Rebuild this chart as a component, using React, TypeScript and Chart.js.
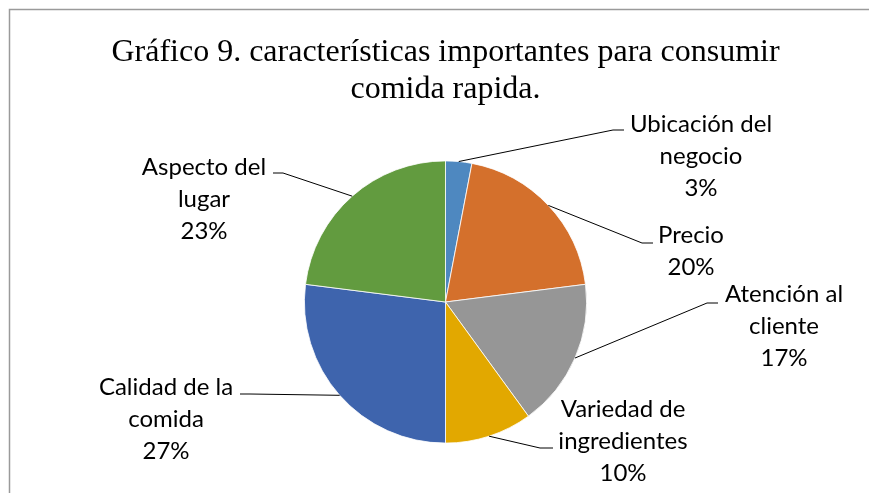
import React, { useEffect, useRef } from "react";
import { Chart, registerables } from "chart.js";

Chart.register(...registerables);

const titleLines = ["Gráfico 9. características importantes para consumir", "comida rapida."];
const categories = ["Ubicación del negocio", "Precio", "Atención al cliente", "Variedad de ingredientes", "Calidad de la comida", "Aspecto del lugar"];
const labelLines = [["Ubicación del", "negocio"], ["Precio"], ["Atención al", "cliente"], ["Variedad de", "ingredientes"], ["Calidad de la", "comida"], ["Aspecto del", "lugar"]];
const values = [3, 20, 17, 10, 27, 23];
const colors = ["#4E88C0", "#D4702C", "#969696", "#E2A800", "#3E64AD", "#629B3F"];

// label layout: elbow point, horizontal end, text centre x, first baseline
const labelLayout = [
  { ex: 613, ey: 130, hx: 624, tx: 701, ty: 132 },
  { ex: 642, ey: 243, hx: 653, tx: 691, ty: 243 },
  { ex: 707, ey: 303, hx: 718, tx: 784, ty: 302 },
  { ex: 540, ey: 448, hx: 553, tx: 623, ty: 417 },
  { ex: 250, ey: 394, hx: 240, tx: 166, ty: 395 },
  { ex: 283, ey: 173, hx: 273, tx: 204, ty: 175 },
];

const LABEL_FONT = "24px Lato";
const LINE_H = 32;

const decorPlugin = {
  id: "decor",
  beforeDraw(chart: any) {
    const ctx = chart.ctx;
    ctx.save();
    ctx.fillStyle = "#ffffff";
    ctx.fillRect(0, 0, chart.width, chart.height);
    ctx.strokeStyle = "#9a9a9a";
    ctx.lineWidth = 1.5;
    ctx.beginPath();
    ctx.moveTo(9.5, chart.height);
    ctx.lineTo(9.5, 9.5);
    ctx.lineTo(chart.width, 9.5);
    ctx.stroke();
    // title
    ctx.fillStyle = "#000000";
    ctx.font = "32px 'Liberation Serif'";
    ctx.textAlign = "center";
    ctx.textBaseline = "alphabetic";
    ctx.fillText(titleLines[0], 445.5, 61);
    ctx.fillText(titleLines[1], 445.5, 98);
    ctx.restore();
  },
  afterDraw(chart: any) {
    const ctx = chart.ctx;
    const meta = chart.getDatasetMeta(0);
    ctx.save();
    meta.data.forEach((arc: any, i: number) => {
      const mid = (arc.startAngle + arc.endAngle) / 2;
      const sx = arc.x + Math.cos(mid) * arc.outerRadius;
      const sy = arc.y + Math.sin(mid) * arc.outerRadius;
      const L = labelLayout[i];
      ctx.strokeStyle = "#000000";
      ctx.lineWidth = 1;
      ctx.beginPath();
      ctx.moveTo(sx, sy);
      ctx.lineTo(L.ex, L.ey);
      ctx.lineTo(L.hx, L.ey);
      ctx.stroke();
      ctx.fillStyle = "#000000";
      ctx.font = LABEL_FONT;
      ctx.textAlign = "center";
      ctx.textBaseline = "alphabetic";
      const lines = [...labelLines[i], values[i] + "%"];
      lines.forEach((t, k) => ctx.fillText(t, L.tx, L.ty + k * LINE_H));
    });
    ctx.restore();
  },
};

export default function App() {
  const ref = useRef<HTMLCanvasElement | null>(null);
  useEffect(() => {
    document.body.style.margin = "0";
    if (!ref.current) return;
    const chart = new Chart(ref.current, {
      type: "pie",
      data: {
        labels: categories,
        datasets: [
          {
            data: values,
            backgroundColor: colors,
            borderColor: "#ffffff",
            borderWidth: 0.8,
          },
        ],
      },
      options: {
        responsive: false,
        animation: false,
        layout: { padding: { top: 160.5, bottom: 49.5, left: 304, right: 282 } },
        plugins: {
          legend: { display: false },
          tooltip: { enabled: false },
          title: { display: false },
        },
      },
      plugins: [decorPlugin],
    });
    return () => chart.destroy();
  }, []);
  return <canvas ref={ref} width={869} height={493} style={{ display: "block" }} />;
}
